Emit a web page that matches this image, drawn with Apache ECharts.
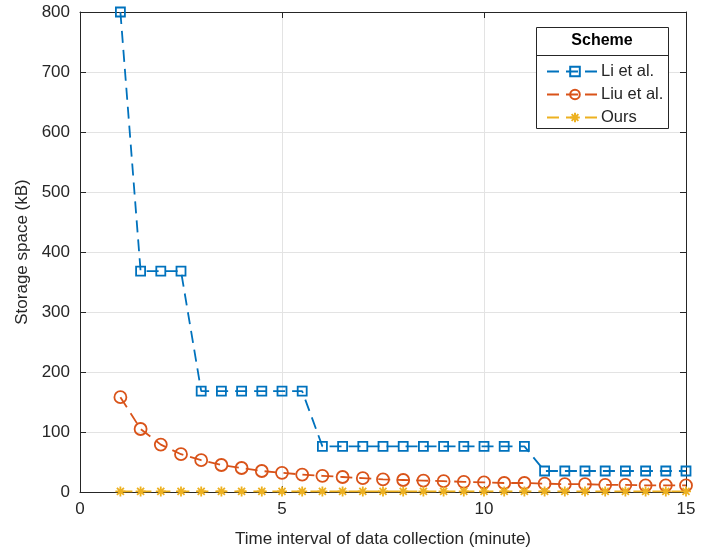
<!DOCTYPE html>
<html><head><meta charset="utf-8">
<script src="https://cdn.jsdelivr.net/npm/echarts@6/dist/echarts.min.js"></script>
<style>html,body{margin:0;padding:0;background:#fff}#c{width:709px;height:553px}</style>
</head><body><div id="c"></div>
<script>
var xValues = [1,1.5,2,2.5,3,3.5,4,4.5,5,5.5,6,6.5,7,7.5,8,8.5,9,9.5,10,10.5,11,11.5,12,12.5,13,13.5,14,14.5,15];
var liEtAl = [800,368,368,368,168,168,168,168,168,168,76,76,76,76,76,76,76,76,76,76,76,35,35,35,35,35,35,35,35];
var liuEtAl = [158,105,79,63,53,45,40,35,32,29,27,25,23,21,20,19,18,17,16,15,15,14,13,13,12,12,11,11,11];
var ours = [1,1,1,1,1,1,1,1,1,1,1,1,1,1,1,1,1,1,1,1,1,1,1,1,1,1,1,1,1];
var seriesNames = ['Li et al.','Liu et al.','Ours'];
var xTicks = [0,5,10,15];
var yTicks = [0,100,200,300,400,500,600,700,800];

var font = 'Liberation Sans, Arial, Helvetica, sans-serif';
var colors = ['#0072BD','#D95319','#EDB120'];
function pairs(v){return xValues.map(function(x,i){return [x,v[i]];});}
var asterisk = 'path://M5,0L5,10M0,5L10,5M1.5,1.5L8.5,8.5M8.5,1.5L1.5,8.5';
var dash = [12,7];

var chart = echarts.init(document.getElementById('c'), null, {renderer:'canvas'});
var axisLabel = {color:'#262626', fontSize:17, fontFamily:font};
var opt = {
  animation:false,
  backgroundColor:'#fff',
  grid:{left:80, right:23, top:12, bottom:61, show:false},
  xAxis:[{
    type:'value', min:xTicks[0], max:xTicks[xTicks.length-1], interval:5,
    name:'Time interval of data collection (minute)', nameLocation:'middle', nameGap:39,
    nameTextStyle:{color:'#262626', fontSize:17, fontFamily:font},
    axisLine:{show:true, onZero:false, lineStyle:{color:'#262626', width:1}},
    axisTick:{show:true, inside:true, length:6, lineStyle:{color:'#262626'}},
    axisLabel:Object.assign({margin:9}, axisLabel),
    splitLine:{show:true, lineStyle:{color:'#e3e3e3', width:1}}
  },{
    type:'value', position:'top', min:0, max:15, interval:5,
    axisLine:{show:true, onZero:false, lineStyle:{color:'#262626', width:1}},
    axisTick:{show:true, inside:true, length:6, lineStyle:{color:'#262626'}},
    axisLabel:{show:false}, splitLine:{show:false}
  }],
  yAxis:[{
    type:'value', min:yTicks[0], max:yTicks[yTicks.length-1], interval:100,
    name:'Storage space (kB)', nameLocation:'middle', nameGap:48,
    nameTextStyle:{color:'#262626', fontSize:17, fontFamily:font},
    axisLine:{show:true, onZero:false, lineStyle:{color:'#262626', width:1}},
    axisTick:{show:true, inside:true, length:6, lineStyle:{color:'#262626'}},
    axisLabel:Object.assign({margin:10}, axisLabel),
    splitLine:{show:true, lineStyle:{color:'#e3e3e3', width:1}}
  },{
    type:'value', position:'right', min:0, max:800, interval:100,
    axisLine:{show:true, onZero:false, lineStyle:{color:'#262626', width:1}},
    axisTick:{show:true, inside:true, length:6, lineStyle:{color:'#262626'}},
    axisLabel:{show:false}, splitLine:{show:false}
  }],
  legend:{
    orient:'vertical', left:541, top:58, itemWidth:56, itemHeight:12, itemGap:6,
    textStyle:{color:'#262626', fontSize:16.5, fontFamily:font, padding:[0,0,0,-7]},
    data:seriesNames, z:10
  },
  graphic:[
    {type:'rect', z:5, shape:{x:536.5, y:27.5, width:132, height:101}, style:{fill:'#fff', stroke:'#262626', lineWidth:1}},
    {type:'line', z:6, shape:{x1:536.5, y1:55.5, x2:668.5, y2:55.5}, style:{stroke:'#262626', lineWidth:1}},
    {type:'text', z:6, x:602, y:41, style:{text:'Scheme', fill:'#000', font:'bold 16px '+font, textAlign:'center', textVerticalAlign:'middle'}}
  ],
  series:[
    {name:seriesNames[0], type:'line', data:pairs(liEtAl), color:colors[0],
     symbol:'rect', symbolSize:9, lineStyle:{width:1.8, type:dash, color:colors[0]},
     itemStyle:{color:'rgba(0,0,0,0)', borderColor:colors[0], borderWidth:1.8}},
    {name:seriesNames[1], type:'line', data:pairs(liuEtAl), color:colors[1],
     symbol:'circle', symbolSize:12, lineStyle:{width:1.8, type:dash, color:colors[1]},
     itemStyle:{color:'rgba(0,0,0,0)', borderColor:colors[1], borderWidth:1.8}},
    {name:seriesNames[2], type:'line', data:pairs(ours), color:colors[2],
     symbol:asterisk, symbolSize:10, lineStyle:{width:1.8, type:dash, color:colors[2]},
     itemStyle:{color:'rgba(0,0,0,0)', borderColor:colors[2], borderWidth:1.8}}
  ]
};
chart.setOption(opt);
</script></body></html>
